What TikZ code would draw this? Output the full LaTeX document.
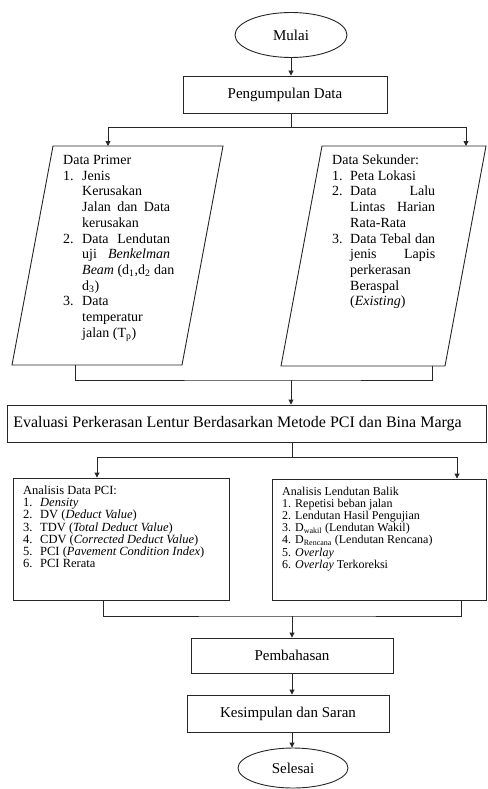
\documentclass[tikz,border=0pt]{standalone}
\usepackage{fontspec}
\setmainfont{Liberation Serif}
\usetikzlibrary{arrows.meta,shapes.geometric}
\newcommand\fsz[2]{\fontsize{#1}{#2}\selectfont}
\newcommand\jst[2]{\makebox[#1][s]{#2}}
\newcommand\numbx[2]{\makebox[#1][l]{#2}}
\begin{document}
\begin{tikzpicture}[x=1pt,y=-1pt,
  line/.style={draw=black!85, line width=0.9pt},
  arr/.style={line, -{Triangle[length=5pt,width=5pt]}},
  box/.style={line, rectangle, inner sep=0pt, font=\fsz{15}{18}},
  term/.style={line, ellipse, inner sep=0pt, font=\fsz{15}{18}},
  txt/.style={anchor=base west, inner sep=0pt, text=black}
]
\useasboundingbox (0,0) rectangle (487,789);

% terminals and boxes
\node[term, minimum width=112pt, minimum height=45pt] (mulai) at (291,35) {Mulai};
\node[box, minimum width=204pt, minimum height=37pt] (kumpul) at (285,94.5) {Pengumpulan Data};
\node[box, minimum width=479pt, minimum height=37pt, font=\fsz{16}{19}] (eval) at (246.5,423.5)
  {Evaluasi Perkerasan Lentur Berdasarkan Metode PCI dan Bina Marga\hspace*{18pt}};
\node[box, minimum width=216pt, minimum height=122pt] (pci) at (121,539) {};
\node[box, minimum width=214pt, minimum height=121pt] (balik) at (379,539.5) {};
\node[box, minimum width=202pt, minimum height=35pt] (bahas) at (292,655.5) {Pembahasan};
\node[box, minimum width=202pt, minimum height=37pt] (simpul) at (288,713.5) {Kesimpulan dan Saran};
\node[term, minimum width=110pt, minimum height=40pt] (selesai) at (293,768) {Selesai};

% input parallelograms
\draw[line] (53,146) -- (223,146) -- (182,365) -- (12,365) -- cycle;
\draw[line] (322,146) -- (486,146) -- (445,366) -- (281,366) -- cycle;
\coordinate (primTop) at (108,146);
\coordinate (sekTop) at (466,146);
\coordinate (primBot) at (75,365);
\coordinate (sekBot) at (432,366);

% texts
\node[txt] (primText) at (63,164.5) {\parbox[t]{130pt}{\fsz{14}{15.7}\lineskiplimit=-\maxdimen\raggedright
Data Primer\\
\numbx{19pt}{1.}Jenis\\
\hspace*{19pt}Kerusakan\\
\hspace*{19pt}\jst{88pt}{Jalan dan Data}\\
\hspace*{19pt}kerusakan\\
\numbx{19pt}{2.}\jst{88pt}{Data Lendutan}\\
\hspace*{19pt}\jst{88pt}{uji \textit{Benkelman}}\\
\hspace*{19pt}\textit{Beam} (d\textsubscript{1},d\textsubscript{2} dan\\
\hspace*{19pt}d\textsubscript{3})\\
\numbx{19pt}{3.}Data\\
\hspace*{19pt}temperatur\\
\hspace*{19pt}jalan (T\textsubscript{p})}};

\node[txt] (sekText) at (332,164.5) {\parbox[t]{130pt}{\fsz{14}{15.7}\lineskiplimit=-\maxdimen\raggedright
Data Sekunder:\\
\numbx{18pt}{1.}Peta Lokasi\\
\numbx{18pt}{2.}\jst{85pt}{Data Lalu}\\
\hspace*{18pt}\jst{85pt}{Lintas Harian}\\
\hspace*{18pt}Rata-Rata\\
\numbx{18pt}{3.}\jst{85pt}{Data Tebal dan}\\
\hspace*{18pt}\jst{85pt}{jenis Lapis}\\
\hspace*{18pt}perkerasan\\
\hspace*{18pt}Beraspal\\
\hspace*{18pt}(\textit{Existing})}};

\node[txt] (pciText) at (23,494.5) {\parbox[t]{205pt}{\fsz{12.5}{12.2}\lineskiplimit=-\maxdimen\raggedright
Analisis Data PCI:\\
\numbx{17pt}{1.}\textit{Density}\\
\numbx{17pt}{2.}DV (\textit{Deduct Value})\\
\numbx{17pt}{3.}TDV (\textit{Total Deduct Value})\\
\numbx{17pt}{4.}CDV (\textit{Corrected Deduct Value})\\
\numbx{17pt}{5.}PCI (\textit{Pavement Condition Index})\\
\numbx{17pt}{6.}PCI Rerata}};

\node[txt] (balikText) at (282,495) {\parbox[t]{200pt}{\fsz{12}{12.2}\lineskiplimit=-\maxdimen\raggedright
Analisis Lendutan Balik\\
1. Repetisi beban jalan\\
2. Lendutan Hasil Pengujian\\
3. D\textsubscript{wakil} (Lendutan Wakil)\\
4. D\textsubscript{Rencana} (Lendutan Rencana)\\
5. \textit{Overlay}\\
6. \textit{Overlay} Terkoreksi}};

% connectors
\coordinate (split1) at (291,127);
\coordinate (merge1) at (291,380);
\coordinate (split2) at (292,457);
\coordinate (merge2) at (292,616);

\draw[arr] (mulai.south) -- (mulai.south |- kumpul.north);
\draw[line] (kumpul.south -| split1) -- (split1);
\draw[arr] (split1) -| (primTop);
\draw[arr] (split1) -| (sekTop);
\draw[line] (primBot) |- (merge1) -| (sekBot);
\draw[arr] (merge1) -- (merge1 |- eval.north);
\draw[line] (eval.south -| split2) -- (split2);
\draw[arr] (split2) -| ([xshift=-24pt]pci.north);
\draw[arr] (split2) -| ([xshift=78pt]balik.north);
\draw[line] ([xshift=-18pt]pci.south) |- (merge2) -| ([xshift=82pt]balik.south);
\draw[arr] (merge2) -- (merge2 |- bahas.north);
\draw[arr] (bahas.south) -- (bahas.south |- simpul.north);
\draw[arr] (simpul.south -| bahas.south) -- (selesai.north -| bahas.south);
\end{tikzpicture}
\end{document}
